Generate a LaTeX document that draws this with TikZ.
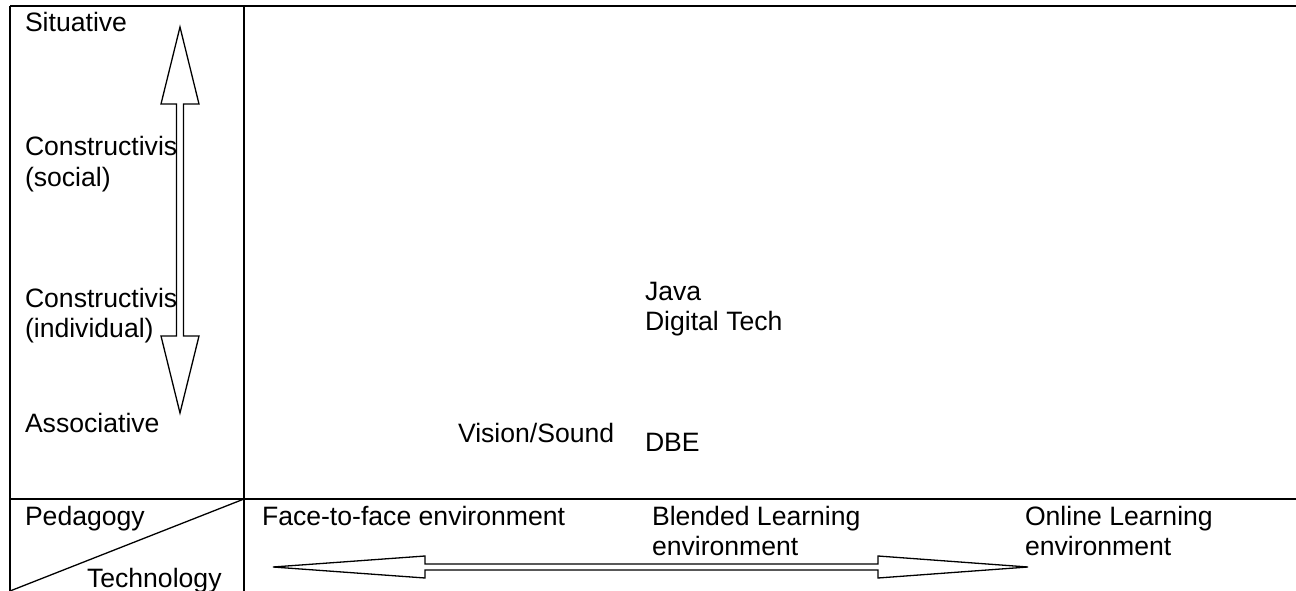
\documentclass[tikz,border=0pt]{standalone}
\usepackage{fontspec}
\setmainfont{Liberation Sans}
\begin{document}
\begin{tikzpicture}[x=1pt,y=-1pt,
  grid/.style={line width=2.4pt,black},
  thin/.style={line width=1.3pt,black},
  lbl/.style={anchor=base west,inner sep=0pt,outer sep=0pt,font=\fontsize{26.6}{30}\selectfont}]
\useasboundingbox (0,0) rectangle (1296,591);
% table lines
\coordinate (tl) at (10,6);
\coordinate (tr) at (1296,6);
\coordinate (bl) at (10,591);
\coordinate (ct) at (244,6);
\coordinate (cb) at (244,591);
\coordinate (rl) at (10,499);
\coordinate (rr) at (1296,499);
\coordinate (rc) at (244,499);
\draw[grid] (tl) -- (tr);
\draw[grid] (tl) -- (bl);
\draw[grid] (ct) -- (cb);
\draw[grid] (rl) -- (rr);
\draw[thin] (bl) -- (rc);
% vertical double arrow
\draw[thin,fill=white,line join=miter] (180,27) -- (199,104) -- (183.5,104) -- (183.5,336) -- (199,336)
  -- (180,413) -- (161,336) -- (176.5,336) -- (176.5,104) -- (161,104) -- cycle;
% horizontal double arrow
\draw[thin,fill=white,line join=miter] (273,567) -- (425,556) -- (425,564) -- (878,564) -- (878,556)
  -- (1028,567) -- (878,578) -- (878,570) -- (425,570) -- (425,578) -- cycle;
% left column labels
\node[lbl] (sit) at (25,32) {Situative};
\node[lbl] (cs1) at (25,156) {Constructivis};
\node[lbl] (cs2) at (25,186) {(social)};
\node[lbl] (ci1) at (25,307) {Constructivis};
\node[lbl] (ci2) at (25,337) {(individual)};
\node[lbl] (ass) at (25,432) {Associative};
\node[lbl] (ped) at (25,525) {Pedagogy};
\node[lbl] (tec) at (87,587) {Technology};
% bottom row labels
\node[lbl] (f2f) at (262,525) {Face-to-face environment};
\node[lbl] (bl1) at (652,525) {Blended Learning};
\node[lbl] (bl2) at (652,555) {environment};
\node[lbl] (ol1) at (1025,525) {Online Learning};
\node[lbl] (ol2) at (1025,555) {environment};
% body labels
\node[lbl] (java) at (645,300) {Java};
\node[lbl] (dig) at (645,330) {Digital Tech};
\node[lbl] (vis) at (458,442) {Vision/Sound};
\node[lbl] (dbe) at (645,451) {DBE};
\end{tikzpicture}
\end{document}
